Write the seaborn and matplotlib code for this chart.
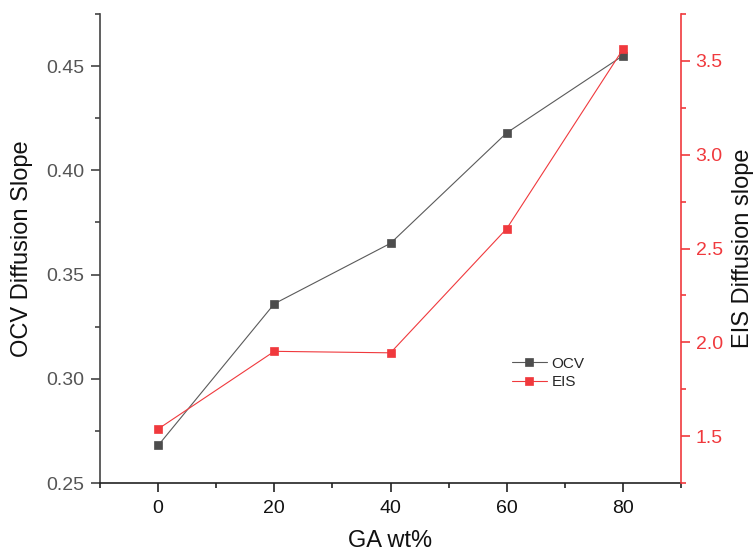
#!/usr/bin/env python3
# OCV vs EIS diffusion slope against GA content, two y axes

import numpy as np
import pandas as pd
import seaborn as sns
import matplotlib
matplotlib.use('Agg')
import matplotlib.pyplot as plt
from matplotlib.ticker import MultipleLocator, FormatStrFormatter

ga_wt   = [0, 20, 40, 60, 80]
ocv     = [0.268, 0.336, 0.365, 0.418, 0.455]
eis     = [1.538, 1.952, 1.944, 2.606, 3.562]

x_ticks = [0, 20, 40, 60, 80]

gray = '#4d4d4d'
red  = '#f0393d'

sns.set_theme(style='ticks')
plt.rcParams['font.family'] = ['Liberation Sans', 'DejaVu Sans']

df = pd.DataFrame({'GA': ga_wt, 'OCV': ocv, 'EIS': eis})

fig = plt.figure(figsize=(7.56, 5.55), dpi=100)
ax = fig.add_axes([0.1323, 0.1297, 0.7685, 0.8450])
ax2 = ax.twinx()

sns.lineplot(data=df, x='GA', y='OCV', ax=ax, color='#5a5a5a', lw=0.8,
             marker='s', markersize=6.4, markerfacecolor=gray,
             markeredgecolor=gray, markeredgewidth=0.5, label='OCV', legend=False)
sns.lineplot(data=df, x='GA', y='EIS', ax=ax2, color=red, lw=0.8,
             marker='s', markersize=6.4, markerfacecolor=red,
             markeredgecolor=red, markeredgewidth=0.5, label='EIS', legend=False)

ax.set_xlim(-10, 90)
ax.set_ylim(0.25, 0.475)
ax2.set_ylim(1.25, 3.75)

ax.set_xticks(x_ticks)
ax.xaxis.set_minor_locator(MultipleLocator(10))
ax.yaxis.set_major_locator(MultipleLocator(0.05))
ax.yaxis.set_minor_locator(MultipleLocator(0.025))
ax.yaxis.set_major_formatter(FormatStrFormatter('%.2f'))
ax2.yaxis.set_major_locator(MultipleLocator(0.5))
ax2.yaxis.set_minor_locator(MultipleLocator(0.25))
ax2.yaxis.set_major_formatter(FormatStrFormatter('%.1f'))

for a in (ax, ax2):
  a.spines['top'].set_visible(False)
ax.spines['right'].set_visible(False)
ax2.spines['left'].set_visible(False)
ax2.spines['bottom'].set_visible(False)
ax.spines['left'].set_color('#444444')
ax.spines['bottom'].set_color('#222222')
ax2.spines['right'].set_color(red)
for s in ('left', 'bottom'):
  ax.spines[s].set_linewidth(1.2)
ax2.spines['right'].set_linewidth(1.2)

ax.tick_params(axis='x', which='major', length=6.5, width=1.2, color='#222222',
               labelsize=14, labelcolor='#111111', pad=6)
ax.tick_params(axis='x', which='minor', length=3.5, width=1.2, color='#222222')
ax.tick_params(axis='y', which='major', length=6.5, width=1.2, color='#444444',
               labelsize=14, labelcolor='#555555', pad=5)
ax.tick_params(axis='y', which='minor', length=3.5, width=1.2, color='#444444')
ax2.tick_params(axis='y', which='major', length=6.5, width=1.2, color=red,
                labelsize=14, labelcolor=red, pad=4)
ax2.tick_params(axis='y', which='minor', length=3.5, width=1.2, color=red)

ax.set_xlabel('GA wt%', fontsize=17, color='#111111', labelpad=9)
ax.set_ylabel('OCV Diffusion Slope', fontsize=17, color='#111111', labelpad=9)
ax2.set_ylabel('EIS Diffusion slope', fontsize=17, color='#111111', labelpad=7)

h1, l1 = ax.get_legend_handles_labels()
h2, l2 = ax2.get_legend_handles_labels()
ax2.legend(h1 + h2, l1 + l2, loc='center left', bbox_to_anchor=(0.69, 0.2345),
           frameon=False, fontsize=11, handlelength=2.3, handletextpad=0.3,
           labelspacing=0.3, numpoints=1, markerscale=1.0, borderpad=0.2)

fig.savefig('out.png', dpi=100)
